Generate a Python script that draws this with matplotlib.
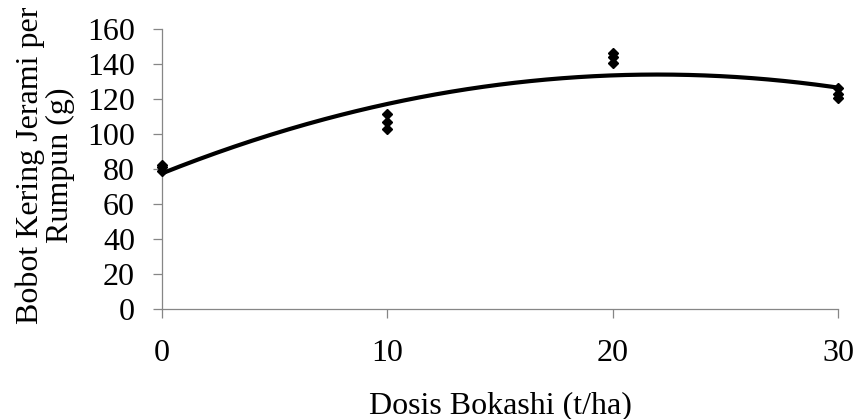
import matplotlib

matplotlib.use("Agg")
import matplotlib.pyplot as plt
import numpy as np

# Bokashi dose (t/ha) and straw dry weight per clump (g), three replicates each
doses = [0, 10, 20, 30]
weight_0 = [79, 81, 82.5]
weight_10 = [103, 107, 111.5]
weight_20 = [140.5, 144, 146]
weight_30 = [120.5, 123, 126]

y_ticks = [0, 20, 40, 60, 80, 100, 120, 140, 160]
x_ticks = [0, 10, 20, 30]

plt.rcParams["font.family"] = ["Liberation Serif", "DejaVu Serif"]
AXIS_GREY = "#868686"

x = np.repeat(doses, 3)
y = np.concatenate([weight_0, weight_10, weight_20, weight_30])

# quadratic trendline fitted to the observations (as in the original Excel chart)
coef = np.polyfit(x, y, 2)
xs = np.linspace(min(doses), max(doses), 300)
ys = np.polyval(coef, xs)

fig = plt.figure(figsize=(8.57, 4.19), dpi=100)
ax = fig.add_axes([162 / 857, 1 - 309 / 419, 676 / 857, 280 / 419])

ax.plot(xs, ys, color="black", lw=3.0, solid_capstyle="butt", clip_on=False, zorder=2)
ax.plot(x, y, ls="none", marker="D", ms=5.6, color="black", clip_on=False, zorder=3)

ax.set_xlim(0, 30)
ax.set_ylim(0, 160)
ax.set_xticks(x_ticks)
ax.set_yticks(y_ticks)

for side in ("top", "right"):
    ax.spines[side].set_visible(False)
for side in ("left", "bottom"):
    ax.spines[side].set_color(AXIS_GREY)
    ax.spines[side].set_linewidth(0.9)

ax.tick_params(axis="both", direction="out", length=6.5, width=0.9,
               color=AXIS_GREY, labelsize=23, labelcolor="black")
ax.tick_params(axis="x", pad=15)
ax.tick_params(axis="y", pad=13)

fig.text(500 / 857, 1 - 413 / 419, "Dosis Bokashi (t/ha)", ha="center", va="baseline",
         fontsize=23)
fig.text(45 / 857, 1 - 165 / 419, "Bobot Kering Jerami per\nRumpun (g)", ha="center",
         va="center", rotation=90, multialignment="center", linespacing=1.05, fontsize=23)

fig.savefig("out.png", dpi=100)
plt.close(fig)
